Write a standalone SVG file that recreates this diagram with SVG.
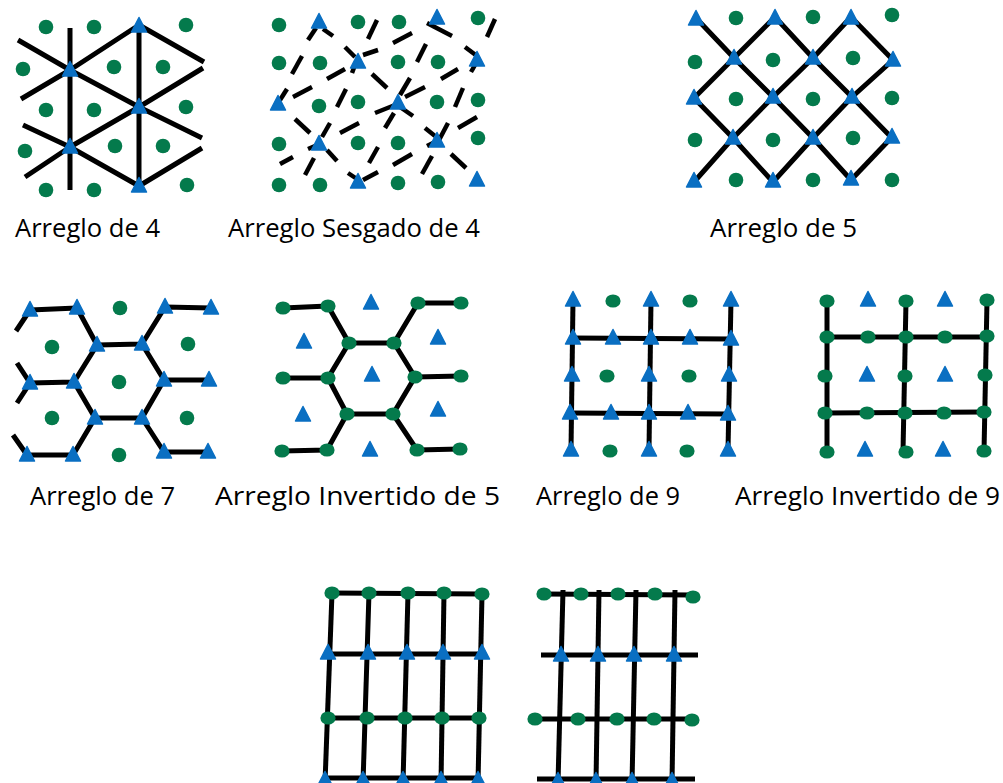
<svg xmlns="http://www.w3.org/2000/svg" xmlns:xlink="http://www.w3.org/1999/xlink" width="1003" height="783" viewBox="0 0 1003 783">
<style>
.ln{stroke:#000;stroke-width:5;fill:none;stroke-linejoin:round}
.ds{stroke:#000;stroke-width:4.5;fill:none}
.dot{fill:#047a4c}
.tri{fill:#0a6fc2;stroke:#0a6fc2;stroke-width:1.5;stroke-linejoin:round}
.lbl{font-family:"Open Sans","Liberation Sans",sans-serif;font-size:25px;fill:#000}
</style>
<defs>
<path id="t" class="tri" d="M0,-8.5 L7.5,6 L-7.5,6 Z"/>
<circle id="d" class="dot" r="7.3"/>
<ellipse id="e" class="dot" rx="7.6" ry="6.6"/>
</defs>
<rect width="1003" height="783" fill="#fff"/>

<!-- Pattern 1: Arreglo de 4 -->
<g id="p1">
<g class="ln">
<line x1="70" y1="28" x2="70" y2="190"/>
<line x1="139" y1="25" x2="139" y2="186"/>
<polyline points="18,40 70,70 139,107 202,138"/>
<polyline points="21,99 70,70 139,25 204,62"/>
<polyline points="23,125 70,147 139,186 202,148"/>
<polyline points="25,177 70,147 139,107 203,68"/>
</g>
<g>
<use href="#d" x="46" y="27"/><use href="#d" x="94" y="27"/><use href="#d" x="186" y="25"/>
<use href="#d" x="23" y="69"/><use href="#d" x="114" y="67"/><use href="#d" x="163" y="67"/>
<use href="#d" x="46" y="110"/><use href="#d" x="94" y="110"/><use href="#d" x="186" y="107"/>
<use href="#d" x="25" y="151"/><use href="#d" x="115" y="146"/><use href="#d" x="163" y="146"/>
<use href="#d" x="46" y="190"/><use href="#d" x="94" y="190"/><use href="#d" x="187" y="185"/>
<use href="#t" x="139" y="26"/><use href="#t" x="70" y="70"/><use href="#t" x="139" y="107"/>
<use href="#t" x="70" y="147"/><use href="#t" x="139" y="186"/>
</g>
</g>

<!-- Pattern 2: Arreglo Sesgado de 4 -->
<g id="p2">
<g class="ds">
<line x1="308" y1="40" x2="316" y2="28"/>
<line x1="323" y1="29" x2="333" y2="36"/>
<line x1="368" y1="39" x2="377" y2="20"/>
<line x1="345" y1="47" x2="355" y2="57"/>
<line x1="363" y1="55" x2="378" y2="50"/>
<line x1="292" y1="74" x2="302" y2="56"/>
<line x1="327" y1="79" x2="345" y2="69"/>
<line x1="352" y1="73" x2="355" y2="65"/>
<line x1="372" y1="74" x2="387" y2="88"/>
<line x1="280" y1="100" x2="287" y2="89"/>
<line x1="293" y1="97" x2="312" y2="87"/>
<line x1="337" y1="107" x2="346" y2="89"/>
<line x1="375" y1="113" x2="395" y2="105"/>
<line x1="295" y1="119" x2="310" y2="133"/>
<line x1="322" y1="137" x2="330" y2="123"/>
<line x1="340" y1="133" x2="359" y2="123"/>
<line x1="308" y1="149" x2="315" y2="146"/>
<line x1="327" y1="150" x2="337" y2="161"/>
<line x1="280" y1="164" x2="293" y2="157"/>
<line x1="305" y1="175" x2="314" y2="158"/>
<line x1="369" y1="163" x2="378" y2="147"/>
<line x1="348" y1="173" x2="357" y2="179"/>
<line x1="363" y1="180" x2="378" y2="172"/>
<line x1="393" y1="43" x2="412" y2="33"/>
<line x1="427" y1="23" x2="452" y2="36"/>
<line x1="487" y1="37" x2="495" y2="19"/>
<line x1="417" y1="62" x2="426" y2="44"/>
<line x1="465" y1="47" x2="477" y2="56"/>
<line x1="471" y1="72" x2="475" y2="65"/>
<line x1="441" y1="79" x2="458" y2="69"/>
<line x1="400" y1="95" x2="410" y2="78"/>
<line x1="405" y1="97" x2="425" y2="87"/>
<line x1="455" y1="107" x2="463" y2="88"/>
<line x1="400" y1="107" x2="413" y2="116"/>
<line x1="385" y1="128" x2="394" y2="113"/>
<line x1="458" y1="128" x2="477" y2="117"/>
<line x1="425" y1="128" x2="435" y2="136"/>
<line x1="438" y1="142" x2="448" y2="123"/>
<line x1="427" y1="146" x2="433" y2="143"/>
<line x1="393" y1="165" x2="412" y2="154"/>
<line x1="422" y1="174" x2="432" y2="156"/>
<line x1="451" y1="154" x2="466" y2="168"/>
</g>
<g>
<use href="#d" x="279" y="25"/><use href="#d" x="358" y="22"/><use href="#d" x="399" y="22"/><use href="#d" x="478" y="18"/>
<use href="#d" x="279" y="63"/><use href="#d" x="320" y="63"/><use href="#d" x="398" y="62"/><use href="#d" x="438" y="62"/>
<use href="#d" x="319" y="106"/><use href="#d" x="358" y="102"/><use href="#d" x="437" y="102"/><use href="#d" x="478" y="100"/>
<use href="#d" x="279" y="144"/><use href="#d" x="358" y="143"/><use href="#d" x="398" y="143"/><use href="#d" x="478" y="138"/>
<use href="#d" x="279" y="185"/><use href="#d" x="320" y="185"/><use href="#d" x="398" y="183"/><use href="#d" x="438" y="182"/>
<use href="#t" x="319" y="22"/><use href="#t" x="437" y="18"/><use href="#t" x="358" y="62"/><use href="#t" x="477" y="60"/>
<use href="#t" x="278" y="104"/><use href="#t" x="398" y="103"/><use href="#t" x="319" y="144"/><use href="#t" x="437" y="141"/>
<use href="#t" x="358" y="182"/><use href="#t" x="477" y="180"/>
</g>
</g>

<!-- Pattern 3: Arreglo de 5 -->
<g id="p3">
<g class="ln">
<polyline points="696,18 734,58 773,97 813,138 851,180"/>
<polyline points="775,17 813,58 852,97 892,138"/>
<polyline points="851,17 893,60"/>
<polyline points="694,98 733,138 773,182"/>
<polyline points="694,182 733,138 773,97 813,58 851,17"/>
<polyline points="694,98 734,58 775,17"/>
<polyline points="773,182 813,138 852,97 893,60"/>
<polyline points="851,180 892,137"/>
</g>
<g>
<use href="#d" x="736" y="18"/><use href="#d" x="813" y="17"/><use href="#d" x="892" y="15"/>
<use href="#d" x="695" y="62"/><use href="#d" x="773" y="60"/><use href="#d" x="853" y="58"/>
<use href="#d" x="736" y="99"/><use href="#d" x="813" y="99"/><use href="#d" x="892" y="98"/>
<use href="#d" x="695" y="140"/><use href="#d" x="773" y="140"/><use href="#d" x="853" y="138"/>
<use href="#d" x="736" y="180"/><use href="#d" x="813" y="180"/><use href="#d" x="892" y="180"/>
<use href="#t" x="696" y="19"/><use href="#t" x="775" y="18"/><use href="#t" x="851" y="18"/>
<use href="#t" x="734" y="58"/><use href="#t" x="813" y="58"/><use href="#t" x="893" y="60"/>
<use href="#t" x="694" y="98"/><use href="#t" x="773" y="97"/><use href="#t" x="852" y="97"/>
<use href="#t" x="733" y="138"/><use href="#t" x="813" y="138"/><use href="#t" x="892" y="137"/>
<use href="#t" x="694" y="181"/><use href="#t" x="773" y="181"/><use href="#t" x="851" y="179"/>
</g>
</g>

<!-- Pattern 4: Arreglo de 7 -->
<g id="p4">
<g class="ln">
<polyline points="16,331 30,310 77,308 97,345 142,344 165,307 211,308"/>
<polyline points="17,363 30,383 17,403"/>
<polyline points="30,383 74,382 97,345"/>
<polyline points="74,382 95,418 142,418 164,380 142,344"/>
<polyline points="164,380 209,380"/>
<polyline points="142,418 164,452 208,452"/>
<polyline points="95,418 73,455 27,455 13,435"/>
</g>
<g>
<use href="#d" x="120" y="308"/><use href="#d" x="52" y="347"/><use href="#d" x="188" y="344"/>
<use href="#d" x="119" y="382"/><use href="#d" x="52" y="418"/><use href="#d" x="187" y="418"/><use href="#d" x="119" y="455"/>
<use href="#t" x="30" y="310"/><use href="#t" x="77" y="308"/><use href="#t" x="165" y="307"/><use href="#t" x="211" y="308"/>
<use href="#t" x="97" y="345"/><use href="#t" x="142" y="344"/>
<use href="#t" x="30" y="383"/><use href="#t" x="74" y="382"/><use href="#t" x="164" y="380"/><use href="#t" x="209" y="380"/>
<use href="#t" x="95" y="418"/><use href="#t" x="142" y="418"/>
<use href="#t" x="27" y="455"/><use href="#t" x="73" y="455"/><use href="#t" x="164" y="452"/><use href="#t" x="208" y="452"/>
</g>
</g>

<!-- Pattern 5: Arreglo Invertido de 5 -->
<g id="p5">
<g class="ln">
<polyline points="283,308 328,306 349,343 394,343 418,303 461,303"/>
<polyline points="283,378 328,378 349,343"/>
<polyline points="328,378 347,414 393,414 415,377 394,343"/>
<polyline points="415,377 461,376"/>
<polyline points="393,414 417,450 460,449"/>
<polyline points="347,414 327,450 282,451"/>
</g>
<g>
<use href="#e" x="283" y="308"/><use href="#e" x="328" y="306"/><use href="#e" x="418" y="303"/><use href="#e" x="461" y="303"/>
<use href="#e" x="349" y="343"/><use href="#e" x="394" y="343"/>
<use href="#e" x="283" y="378"/><use href="#e" x="328" y="378"/><use href="#e" x="415" y="377"/><use href="#e" x="461" y="376"/>
<use href="#e" x="347" y="414"/><use href="#e" x="393" y="414"/>
<use href="#e" x="282" y="451"/><use href="#e" x="327" y="450"/><use href="#e" x="417" y="450"/><use href="#e" x="460" y="449"/>
<use href="#t" x="371" y="303"/><use href="#t" x="304" y="342"/><use href="#t" x="438" y="338"/><use href="#t" x="372" y="375"/>
<use href="#t" x="303" y="415"/><use href="#t" x="438" y="410"/><use href="#t" x="370" y="450"/>
</g>
</g>

<!-- Pattern 6: Arreglo de 9 -->
<g id="p6">
<g class="ln">
<line x1="573" y1="300" x2="571" y2="450"/>
<line x1="651" y1="300" x2="649" y2="450"/>
<line x1="731" y1="300" x2="728" y2="450"/>
<line x1="573" y1="338" x2="731" y2="339"/>
<line x1="570" y1="413" x2="728" y2="414"/>
</g>
<g>
<use href="#e" x="613" y="301"/><use href="#e" x="690" y="301"/>
<use href="#e" x="607" y="376"/><use href="#e" x="689" y="376"/>
<use href="#e" x="610" y="451"/><use href="#e" x="687" y="451"/>
<use href="#t" x="573" y="300"/><use href="#t" x="651" y="300"/><use href="#t" x="731" y="300"/>
<use href="#t" x="573" y="338"/><use href="#t" x="613" y="338"/><use href="#t" x="651" y="338"/><use href="#t" x="690" y="338"/><use href="#t" x="731" y="339"/>
<use href="#t" x="572" y="375"/><use href="#t" x="649" y="375"/><use href="#t" x="729" y="375"/>
<use href="#t" x="570" y="413"/><use href="#t" x="611" y="413"/><use href="#t" x="649" y="413"/><use href="#t" x="688" y="413"/><use href="#t" x="728" y="414"/>
<use href="#t" x="571" y="450"/><use href="#t" x="649" y="450"/><use href="#t" x="728" y="450"/>
</g>
</g>

<!-- Pattern 7: Arreglo Invertido de 9 -->
<g id="p7">
<g class="ln">
<line x1="827" y1="301" x2="827" y2="452"/>
<line x1="906" y1="301" x2="903" y2="452"/>
<line x1="987" y1="301" x2="984" y2="452"/>
<line x1="827" y1="337" x2="987" y2="337"/>
<line x1="825" y1="413" x2="985" y2="412"/>
</g>
<g>
<use href="#e" x="827" y="301"/><use href="#e" x="906" y="301"/><use href="#e" x="987" y="300"/>
<use href="#e" x="827" y="337"/><use href="#e" x="868" y="337"/><use href="#e" x="906" y="337"/><use href="#e" x="945" y="337"/><use href="#e" x="987" y="336"/>
<use href="#e" x="825" y="376"/><use href="#e" x="905" y="376"/><use href="#e" x="985" y="375"/>
<use href="#e" x="825" y="413"/><use href="#e" x="867" y="413"/><use href="#e" x="905" y="413"/><use href="#e" x="944" y="413"/><use href="#e" x="984" y="412"/>
<use href="#e" x="827" y="452"/><use href="#e" x="906" y="452"/><use href="#e" x="984" y="451"/>
<use href="#t" x="868" y="300"/><use href="#t" x="945" y="300"/>
<use href="#t" x="867" y="375"/><use href="#t" x="945" y="375"/>
<use href="#t" x="865" y="450"/><use href="#t" x="943" y="450"/>
</g>
</g>

<!-- Pattern 8 -->
<g id="p8">
<g class="ln">
<line x1="332" y1="593" x2="325" y2="783"/>
<line x1="369" y1="593" x2="363" y2="783"/>
<line x1="408" y1="593" x2="403" y2="783"/>
<line x1="444" y1="593" x2="441" y2="783"/>
<line x1="482" y1="594" x2="478" y2="783"/>
<line x1="332" y1="593" x2="482" y2="594"/>
<line x1="328" y1="654" x2="482" y2="654"/>
<line x1="325" y1="718" x2="479" y2="718"/>
<line x1="325" y1="778" x2="478" y2="778"/>
</g>
<g>
<use href="#e" x="332" y="593"/><use href="#e" x="369" y="593"/><use href="#e" x="408" y="593"/><use href="#e" x="444" y="593"/><use href="#e" x="482" y="594"/>
<use href="#t" x="328" y="653"/><use href="#t" x="368" y="653"/><use href="#t" x="407" y="653"/><use href="#t" x="443" y="653"/><use href="#t" x="482" y="653"/>
<use href="#e" x="328" y="718"/><use href="#e" x="367" y="718"/><use href="#e" x="405" y="718"/><use href="#e" x="442" y="718"/><use href="#e" x="479" y="718"/>
<use href="#t" x="325" y="780"/><use href="#t" x="363" y="780"/><use href="#t" x="403" y="780"/><use href="#t" x="441" y="780"/><use href="#t" x="478" y="780"/>
</g>
</g>

<!-- Pattern 9 -->
<g id="p9">
<g class="ln">
<line x1="563" y1="590" x2="558" y2="783"/>
<line x1="599" y1="590" x2="596" y2="783"/>
<line x1="636" y1="590" x2="632" y2="783"/>
<line x1="675" y1="590" x2="672" y2="783"/>
<line x1="544" y1="594" x2="693" y2="595"/>
<line x1="541" y1="655" x2="698" y2="655"/>
<line x1="536" y1="719" x2="697" y2="719"/>
<line x1="537" y1="779" x2="695" y2="779"/>
</g>
<g>
<use href="#e" x="544" y="594"/><use href="#e" x="581" y="594"/><use href="#e" x="618" y="594"/><use href="#e" x="655" y="594"/><use href="#e" x="693" y="597"/>
<use href="#t" x="561" y="655"/><use href="#t" x="598" y="655"/><use href="#t" x="634" y="655"/><use href="#t" x="674" y="655"/>
<use href="#e" x="535" y="719"/><use href="#e" x="578" y="719"/><use href="#e" x="617" y="719"/><use href="#e" x="654" y="719"/><use href="#e" x="692" y="720"/>
<use href="#t" x="558" y="781"/><use href="#t" x="596" y="781"/><use href="#t" x="632" y="781"/><use href="#t" x="672" y="781"/>
</g>
</g>

<!-- Labels -->
<g id="labels" class="lbl">
<text x="15" y="237" textLength="145" lengthAdjust="spacingAndGlyphs">Arreglo de 4</text>
<text x="228" y="237" textLength="252" lengthAdjust="spacingAndGlyphs">Arreglo Sesgado de 4</text>
<text x="710" y="237" textLength="147" lengthAdjust="spacingAndGlyphs">Arreglo de 5</text>
<text x="30" y="505" textLength="145" lengthAdjust="spacingAndGlyphs">Arreglo de 7</text>
<text x="215" y="505" textLength="285" lengthAdjust="spacingAndGlyphs">Arreglo Invertido de 5</text>
<text x="536" y="505" textLength="144" lengthAdjust="spacingAndGlyphs">Arreglo de 9</text>
<text x="735" y="505" textLength="265" lengthAdjust="spacingAndGlyphs">Arreglo Invertido de 9</text>
</g>
</svg>
